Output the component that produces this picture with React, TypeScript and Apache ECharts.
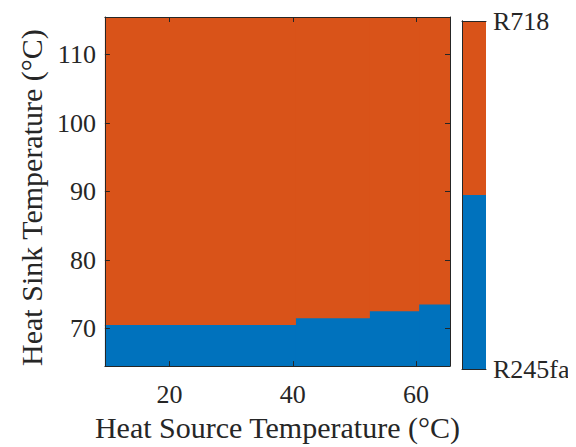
import React, { useEffect, useRef } from "react";
import * as echarts from "echarts";

// Heat source temperature segments (°C) and the highest heat sink temperature at which R245fa is selected
const sourceTempStart = [10, 41, 53, 61];
const sourceTempEnd = [40, 52, 60, 65];
const maxSinkTempR245fa = [70, 71, 72, 73];
const sinkTempMin = 65;
const sinkTempMax = 115;

const fluids = ["R245fa", "R718"];
const fluidColors = ["#0072BD", "#D95319"];

const xTicks = [20, 40, 60];
const yTicks = [70, 80, 90, 100, 110];

const FONT = "Liberation Serif, Times New Roman, serif";
const INK = "#262626";

export default function App() {
  const ref = useRef<HTMLDivElement>(null);
  useEffect(() => {
    if (!ref.current) return;
    const chart = echarts.init(ref.current, null, { renderer: "svg" });

    const segData = sourceTempStart.map((s, i) => [s, sourceTempEnd[i], maxSinkTempR245fa[i]]);
    const xMin = sourceTempStart[0] - 0.5;
    const xMax = sourceTempEnd[sourceTempEnd.length - 1] + 0.5;
    const yMin = sinkTempMin - 0.5;
    const yMax = sinkTempMax + 0.5;

    const axisLine = { show: true, lineStyle: { color: INK, width: 1 } };
    const tickIn = (vals: number[]) => ({
      show: true,
      inside: true,
      length: 5,
      customValues: vals,
      lineStyle: { color: INK, width: 1 },
    });
    const lbl = (vals: number[], margin: number) => ({
      show: true,
      customValues: vals,
      fontFamily: FONT,
      fontSize: 26,
      color: INK,
      margin,
    });

    const option: any = {
      animation: false,
      grid: [
        { left: 90, top: 9, width: 352, height: 352, containLabel: false },
        { left: 454, top: 9, width: 24, height: 352, containLabel: false },
      ],
      xAxis: [
        {
          type: "value", gridIndex: 0, position: "bottom", min: xMin, max: xMax, z: 10,
          axisLine, axisTick: tickIn(xTicks), axisLabel: lbl(xTicks, 15), splitLine: { show: false },
          name: "Heat Source Temperature (°C)", nameLocation: "middle", nameGap: 35,
          nameTextStyle: { fontFamily: FONT, fontSize: 30, color: INK },
        },
        {
          type: "value", gridIndex: 0, position: "top", min: xMin, max: xMax, z: 10,
          axisLine, axisTick: tickIn(xTicks), axisLabel: { show: false }, splitLine: { show: false },
        },
        {
          type: "value", gridIndex: 1, position: "bottom", min: 0, max: 1, z: 10,
          axisLine, axisTick: { show: false }, axisLabel: { show: false }, splitLine: { show: false },
        },
        {
          type: "value", gridIndex: 1, position: "top", min: 0, max: 1, z: 10,
          axisLine, axisTick: { show: false }, axisLabel: { show: false }, splitLine: { show: false },
        },
      ],
      yAxis: [
        {
          type: "value", gridIndex: 0, position: "left", min: yMin, max: yMax, z: 10,
          axisLine, axisTick: tickIn(yTicks), axisLabel: lbl(yTicks, 9), splitLine: { show: false },
          name: "Heat Sink Temperature (°C)", nameLocation: "middle", nameGap: 56, nameRotate: 90,
          nameTextStyle: { fontFamily: FONT, fontSize: 30, color: INK, padding: [0, 12, 0, 0] },
        },
        {
          type: "value", gridIndex: 0, position: "right", min: yMin, max: yMax, z: 10,
          axisLine, axisTick: tickIn(yTicks), axisLabel: { show: false }, splitLine: { show: false },
        },
        {
          type: "value", gridIndex: 1, position: "left", min: 1, max: 2, z: 10,
          axisLine, axisTick: { show: false }, axisLabel: { show: false }, splitLine: { show: false },
        },
        {
          type: "value", gridIndex: 1, position: "right", min: 1, max: 2, z: 10,
          axisLine, axisTick: { show: false },
          axisLabel: {
            ...lbl([1, 2], 7),
            formatter: (v: number) => fluids[Math.round(v) - 1],
          },
          splitLine: { show: false },
        },
      ],
      series: [
        {
          type: "custom",
          xAxisIndex: 0,
          yAxisIndex: 0,
          data: segData,
          clip: true,
          renderItem: (params: any, api: any) => {
            const s = api.value(0) - 0.5;
            const e = api.value(1) + 0.5;
            const b = api.value(2) + 0.5;
            const pBL = api.coord([s, yMin]);
            const pB = api.coord([e, b]);
            const pT = api.coord([e, yMax]);
            const w = pB[0] - pBL[0] + 1;
            return {
              type: "group",
              children: [
                {
                  type: "rect",
                  shape: { x: pBL[0], y: pT[1], width: w, height: pB[1] - pT[1] + 1 },
                  style: { fill: fluidColors[1], stroke: null },
                },
                {
                  type: "rect",
                  shape: { x: pBL[0], y: pB[1], width: w, height: pBL[1] - pB[1] },
                  style: { fill: fluidColors[0], stroke: null },
                },
              ],
            };
          },
        },
        {
          type: "custom",
          xAxisIndex: 2,
          yAxisIndex: 2,
          data: fluids.map((_, i) => [i]),
          renderItem: (params: any, api: any) => {
            const i = api.value(0);
            const lo = 1 + i * 0.5;
            const hi = lo + 0.5;
            const a = api.coord([0, lo]);
            const b = api.coord([1, hi]);
            return {
              type: "rect",
              shape: { x: a[0], y: b[1], width: b[0] - a[0], height: a[1] - b[1] },
              style: { fill: fluidColors[i], stroke: null },
            };
          },
        },
      ],
    };
    chart.setOption(option);
    return () => chart.dispose();
  }, []);
  return <div ref={ref} style={{ width: 568, height: 439 }} />;
}
